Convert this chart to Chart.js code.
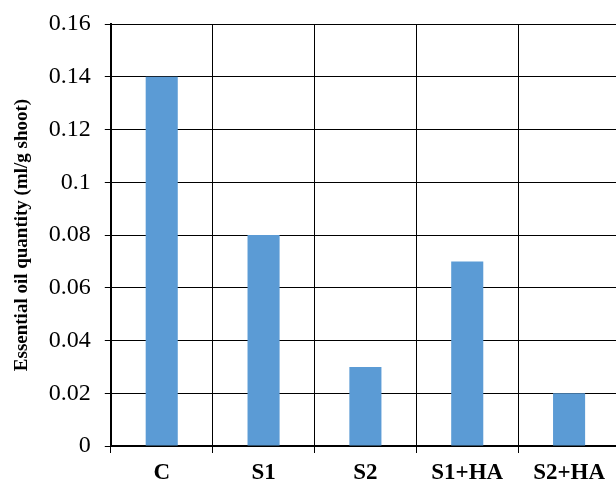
<!DOCTYPE html>
<html>
<head>
<meta charset="utf-8">
<script src="https://cdn.jsdelivr.net/npm/chart.js@4/dist/chart.umd.min.js"></script>
<style>
  html, body { margin: 0; padding: 0; background: #fff; overflow: hidden; }
  #wrap { width: 620px; height: 485px; position: relative; }
</style>
</head>
<body>
<div id="wrap"><canvas id="chart"></canvas></div>
<script>
const treatments = ["C", "S1", "S2", "S1+HA", "S2+HA"];
const oilQuantity = [0.14, 0.08, 0.03, 0.07, 0.02];
const yTicks = [0, 0.02, 0.04, 0.06, 0.08, 0.1, 0.12, 0.14, 0.16];

const serif = "'Liberation Serif', 'Times New Roman', serif";

const config = {
  type: "bar",
  data: {
    labels: treatments,
    datasets: [
      {
        label: "Essential oil quantity",
        data: oilQuantity,
        backgroundColor: "#5B9BD5",
        borderWidth: 0,
        categoryPercentage: 1,
        barPercentage: 0.315,
      },
    ],
  },
  options: {
    responsive: true,
    maintainAspectRatio: false,
    animation: false,
    layout: {
      padding: { top: 24, left: 11, right: 0, bottom: 0 },
    },
    plugins: {
      legend: { display: false },
      tooltip: { enabled: false },
    },
    scales: {
      x: {
        afterFit: (axis) => {
          axis.height = 39;
        },
        grid: {
          offset: true,
          color: "#000",
          lineWidth: 1,
          tickLength: 7,
        },
        border: { color: "#000", width: 2 },
        ticks: {
          color: "#000",
          padding: 9,
          maxRotation: 0,
          font: { family: serif, size: 23, weight: "bold", lineHeight: 1 },
        },
      },
      y: {
        min: 0,
        max: 0.16,
        afterBuildTicks: (axis) => {
          axis.ticks = yTicks.map((v) => ({ value: v }));
        },
        afterFit: (axis) => {
          axis.paddingTop = 0;
          axis.paddingBottom = 0;
        },
        grid: {
          color: "#000",
          lineWidth: 1,
          tickLength: 6,
        },
        border: { color: "#000", width: 2 },
        ticks: {
          color: "#000",
          padding: 14,
          font: { family: serif, size: 24 },
          callback: (v) => String(Math.round(v * 100) / 100),
        },
        title: {
          display: true,
          text: "Essential oil quantity (ml/g shoot)",
          color: "#000",
          padding: { top: 0, bottom: 1 },
          font: { family: serif, size: 19, weight: "bold" },
        },
      },
    },
  },
};

new Chart(document.getElementById("chart"), config);
</script>
</body>
</html>
